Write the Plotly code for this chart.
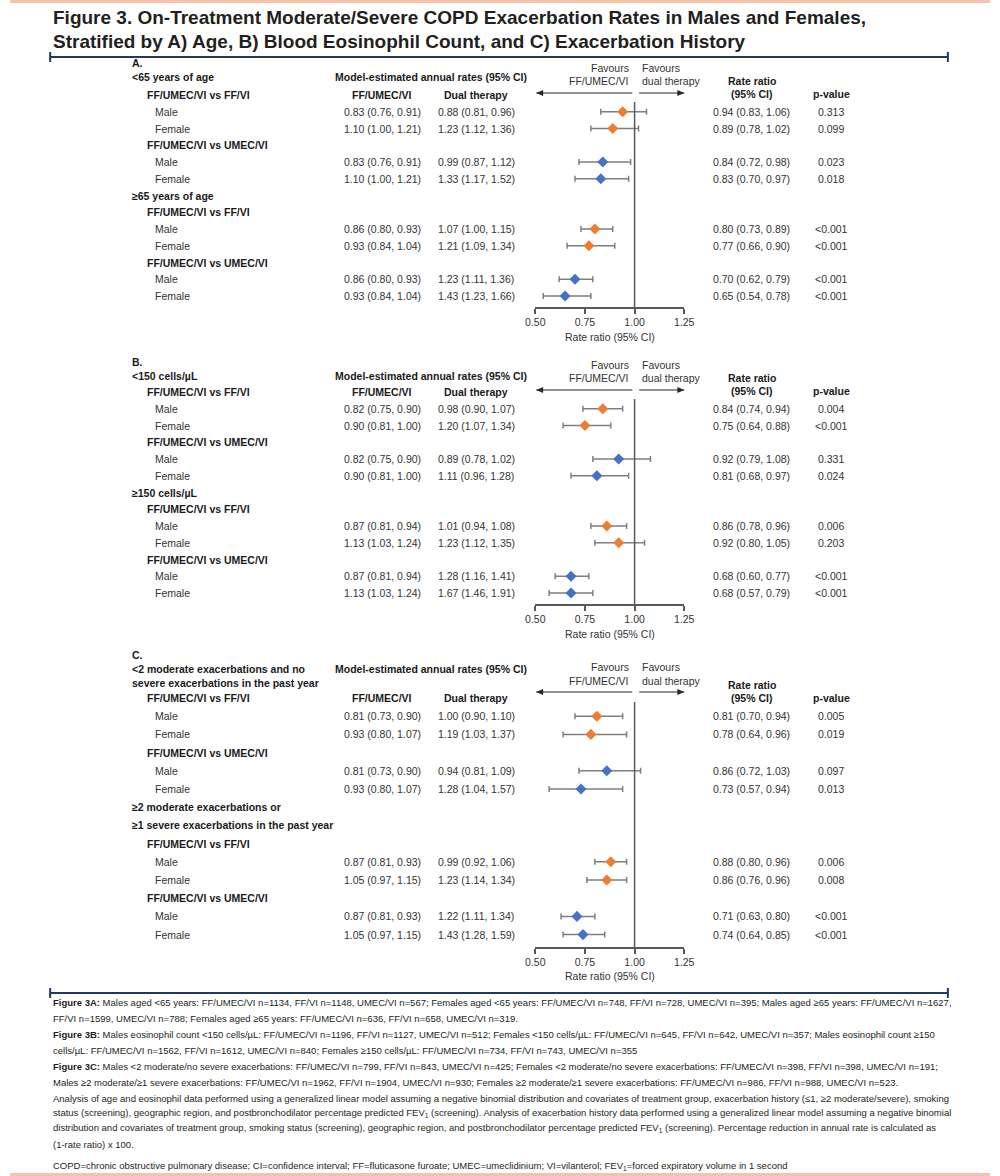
import plotly.graph_objects as go

W, H = 1000, 1176

# ---------------- data ----------------
panel_letters = ["A.", "B.", "C."]
subgroup_labels = [
    [["&lt;65 years of age"], ["≥65 years of age"]],
    [["&lt;150 cells/µL"], ["≥150 cells/µL"]],
    [["&lt;2 moderate exacerbations and no", "severe exacerbations in the past year"],
     ["≥2 moderate exacerbations or", "≥1 severe exacerbations in the past year"]],
]
comparisons = ["FF/UMEC/VI vs FF/VI", "FF/UMEC/VI vs UMEC/VI"]
sexes = ["Male", "Female"]
tick_values = [0.50, 0.75, 1.00, 1.25]
tick_labels = ["0.50", "0.75", "1.00", "1.25"]

# row order: [sub1 vsFF/VI M, F, sub1 vsUMEC/VI M, F, sub2 vsFF/VI M, F, sub2 vsUMEC/VI M, F]
A_triple = [(0.83, 0.76, 0.91), (1.10, 1.00, 1.21), (0.83, 0.76, 0.91), (1.10, 1.00, 1.21),
            (0.86, 0.80, 0.93), (0.93, 0.84, 1.04), (0.86, 0.80, 0.93), (0.93, 0.84, 1.04)]
A_dual = [(0.88, 0.81, 0.96), (1.23, 1.12, 1.36), (0.99, 0.87, 1.12), (1.33, 1.17, 1.52),
          (1.07, 1.00, 1.15), (1.21, 1.09, 1.34), (1.23, 1.11, 1.36), (1.43, 1.23, 1.66)]
A_rr = [0.94, 0.89, 0.84, 0.83, 0.80, 0.77, 0.70, 0.65]
A_lo = [0.83, 0.78, 0.72, 0.70, 0.73, 0.66, 0.62, 0.54]
A_hi = [1.06, 1.02, 0.98, 0.97, 0.89, 0.90, 0.79, 0.78]
A_p = ["0.313", "0.099", "0.023", "0.018", "&lt;0.001", "&lt;0.001", "&lt;0.001", "&lt;0.001"]

B_triple = [(0.82, 0.75, 0.90), (0.90, 0.81, 1.00), (0.82, 0.75, 0.90), (0.90, 0.81, 1.00),
            (0.87, 0.81, 0.94), (1.13, 1.03, 1.24), (0.87, 0.81, 0.94), (1.13, 1.03, 1.24)]
B_dual = [(0.98, 0.90, 1.07), (1.20, 1.07, 1.34), (0.89, 0.78, 1.02), (1.11, 0.96, 1.28),
          (1.01, 0.94, 1.08), (1.23, 1.12, 1.35), (1.28, 1.16, 1.41), (1.67, 1.46, 1.91)]
B_rr = [0.84, 0.75, 0.92, 0.81, 0.86, 0.92, 0.68, 0.68]
B_lo = [0.74, 0.64, 0.79, 0.68, 0.78, 0.80, 0.60, 0.57]
B_hi = [0.94, 0.88, 1.08, 0.97, 0.96, 1.05, 0.77, 0.79]
B_p = ["0.004", "&lt;0.001", "0.331", "0.024", "0.006", "0.203", "&lt;0.001", "&lt;0.001"]

C_triple = [(0.81, 0.73, 0.90), (0.93, 0.80, 1.07), (0.81, 0.73, 0.90), (0.93, 0.80, 1.07),
            (0.87, 0.81, 0.93), (1.05, 0.97, 1.15), (0.87, 0.81, 0.93), (1.05, 0.97, 1.15)]
C_dual = [(1.00, 0.90, 1.10), (1.19, 1.03, 1.37), (0.94, 0.81, 1.09), (1.28, 1.04, 1.57),
          (0.99, 0.92, 1.06), (1.23, 1.14, 1.34), (1.22, 1.11, 1.34), (1.43, 1.28, 1.59)]
C_rr = [0.81, 0.78, 0.86, 0.73, 0.88, 0.86, 0.71, 0.74]
C_lo = [0.70, 0.64, 0.72, 0.57, 0.80, 0.76, 0.63, 0.64]
C_hi = [0.94, 0.96, 1.03, 0.94, 0.96, 0.96, 0.80, 0.85]
C_p = ["0.005", "0.019", "0.097", "0.013", "0.006", "0.008", "&lt;0.001", "&lt;0.001"]

title_lines = [
    "Figure 3. On-Treatment Moderate/Severe COPD Exacerbation Rates in Males and Females,",
    "Stratified by A) Age, B) Blood Eosinophil Count, and C) Exacerbation History",
]
footnotes = [
    "<b>Figure 3A:</b> Males aged &lt;65 years: FF/UMEC/VI n=1134, FF/VI n=1148, UMEC/VI n=567; Females aged &lt;65 years: FF/UMEC/VI n=748, FF/VI n=728, UMEC/VI n=395; Males aged ≥65 years: FF/UMEC/VI n=1627,",
    "FF/VI n=1599, UMEC/VI n=788; Females aged ≥65 years: FF/UMEC/VI n=636, FF/VI n=658, UMEC/VI n=319.",
    "<b>Figure 3B:</b> Males eosinophil count &lt;150 cells/µL: FF/UMEC/VI n=1196, FF/VI n=1127, UMEC/VI n=512; Females &lt;150 cells/µL: FF/UMEC/VI n=645, FF/VI n=642, UMEC/VI n=357; Males eosinophil count ≥150",
    "cells/µL: FF/UMEC/VI n=1562, FF/VI n=1612, UMEC/VI n=840; Females ≥150 cells/µL: FF/UMEC/VI n=734, FF/VI n=743, UMEC/VI n=355",
    "<b>Figure 3C:</b> Males &lt;2 moderate/no severe exacerbations: FF/UMEC/VI n=799, FF/VI n=843, UMEC/VI n=425; Females &lt;2 moderate/no severe exacerbations: FF/UMEC/VI n=398, FF/VI n=398, UMEC/VI n=191;",
    "Males ≥2 moderate/≥1 severe exacerbations: FF/UMEC/VI n=1962, FF/VI n=1904, UMEC/VI n=930; Females ≥2 moderate/≥1 severe exacerbations: FF/UMEC/VI n=986, FF/VI n=988, UMEC/VI n=523.",
    "Analysis of age and eosinophil data performed using a generalized linear model assuming a negative binomial distribution and covariates of treatment group, exacerbation history (≤1, ≥2 moderate/severe), smoking",
    "status (screening), geographic region, and postbronchodilator percentage predicted FEV<sub>1</sub> (screening). Analysis of exacerbation history data performed using a generalized linear model assuming a negative binomial",
    "distribution and covariates of treatment group, smoking status (screening), geographic region, and postbronchodilator percentage predicted FEV<sub>1</sub> (screening). Percentage reduction in annual rate is calculated as",
    "(1-rate ratio) x 100.",
    "COPD=chronic obstructive pulmonary disease; CI=confidence interval; FF=fluticasone furoate; UMEC=umeclidinium; VI=vilanterol; FEV<sub>1</sub>=forced expiratory volume in 1 second",
]

# ---------------- styling / layout ----------------
BODY = "Liberation Sans, Arial, sans-serif"
DARK = "#1a1a1a"
REG = "#333333"
ORANGE = "#ED7D31"
BLUE = "#4472C4"
NAVY = "#1F3864"
SALMON = "#F6C2AC"
ERR = "#7F7F7F"
AXC = "#595959"
ARR = "#262626"
FS = 10.5

X_SUB, X_COMP, X_SEX = 122, 138, 146
X_TRI, X_DUAL, X_MODEL = 380, 476, 430
X_RR, X_P = 757, 838
X_LEFT_ARR0, X_LEFT_ARR1 = 537, 635
X_RIGHT_ARR0, X_RIGHT_ARR1 = 642, 688
DOM = [0.536, 0.688]

panels = [
    dict(letter_y=63, sub_y=[77], model_y=77, fav_y=(68, 81), arrow_y=93, rr_y=(81, 94),
         colhead_y=95, step=16.75, vtop=102, axis_y=308, axtitle_y=337,
         triple=A_triple, dual=A_dual, rr=A_rr, lo=A_lo, hi=A_hi, p=A_p),
    dict(letter_y=362, sub_y=[376], model_y=376, fav_y=(365, 378), arrow_y=390, rr_y=(378, 391),
         colhead_y=392, step=16.75, vtop=399, axis_y=605, axtitle_y=634,
         triple=B_triple, dual=B_dual, rr=B_rr, lo=B_lo, hi=B_hi, p=B_p),
    dict(letter_y=655, sub_y=[669, 683], model_y=669, fav_y=(667, 681), arrow_y=692, rr_y=(685, 698),
         colhead_y=698, step=18.2, vtop=702, axis_y=948, axtitle_y=976,
         triple=C_triple, dual=C_dual, rr=C_rr, lo=C_lo, hi=C_hi, p=C_p),
]

fig = go.Figure()
ann = []
shapes = []


def txt(x, y, s, size=FS, bold=False, anchor="left", color=None, family=BODY):
    ann.append(dict(x=x / W, xref="paper", y=y, yref="y",
                    text=f"<b>{s}</b>" if bold else s, showarrow=False,
                    xanchor=anchor, yanchor="middle",
                    font=dict(size=size, color=color or (DARK if bold else REG), family=family)))


def arrow(x_tail, x_tip, y):
    shapes.append(dict(type="line", xref="paper", yref="y", x0=x_tail / W, x1=x_tip / W,
                       y0=y, y1=y, line=dict(color=ARR, width=1.2)))
    d = 7 if x_tip > x_tail else -7
    bx = (x_tip - d) / W
    shapes.append(dict(type="path", xref="paper", yref="y",
                       path=f"M {x_tip / W},{y} L {bx},{y - 3} L {bx},{y + 3} Z",
                       fillcolor=ARR, line=dict(width=0)))


def fmt(t):
    return f"{t[0]:.2f} ({t[1]:.2f}, {t[2]:.2f})"


# page border lines
shapes.append(dict(type="rect", xref="paper", yref="y", x0=0, x1=1, y0=0, y1=3,
                   fillcolor=SALMON, line=dict(width=0)))
shapes.append(dict(type="rect", xref="paper", yref="y", x0=0, x1=1, y0=1173, y1=1176,
                   fillcolor=SALMON, line=dict(width=0)))
for ry in (57, 993):
    shapes.append(dict(type="line", xref="paper", yref="y", x0=41 / W, x1=957 / W, y0=ry, y1=ry,
                       line=dict(color=NAVY, width=2)))
    for rx in (41, 957):
        shapes.append(dict(type="line", xref="paper", yref="y", x0=rx / W, x1=rx / W,
                           y0=ry - 5, y1=ry + 5, line=dict(color=NAVY, width=2)))

# title
for i, line in enumerate(title_lines):
    ann.append(dict(x=42 / W, xref="paper", y=17 + 24 * i, yref="y", text=f"<b>{line}</b>",
                    showarrow=False, xanchor="left", yanchor="middle",
                    font=dict(size=19, color="#231F20", family=BODY)))

layout_axes = {}
for pi, P in enumerate(panels):
    xa = "x" if pi == 0 else f"x{pi + 1}"
    axname = "xaxis" if pi == 0 else f"xaxis{pi + 1}"
    ax = dict(domain=DOM, range=[0.5, 1.25], tickvals=tick_values, ticktext=tick_labels,
              showline=True, linecolor=AXC, linewidth=1.5, ticks="outside", ticklen=5,
              tickwidth=1.5, tickcolor=AXC, showgrid=False, zeroline=False,
              tickfont=dict(size=FS, color=REG, family=BODY), anchor="free",
              position=1 - P["axis_y"] / H, fixedrange=True)
    if pi > 0:
        ax["overlaying"] = "x"
    layout_axes[axname] = ax

    # header block
    txt(X_SUB, P["letter_y"], panel_letters[pi], bold=True)
    for li, yy in enumerate(P["sub_y"]):
        txt(X_SUB, yy, subgroup_labels[pi][0][li], bold=True)
    txt(X_MODEL, P["model_y"], "Model-estimated annual rates (95% CI)", bold=True, anchor="center")
    txt(X_LEFT_ARR1 - 1, P["fav_y"][0], "Favours", anchor="right")
    txt(X_LEFT_ARR1 - 1, P["fav_y"][1], "FF/UMEC/VI", anchor="right")
    txt(X_RIGHT_ARR0 + 1, P["fav_y"][0], "Favours", anchor="left")
    txt(X_RIGHT_ARR0 + 1, P["fav_y"][1], "dual therapy", anchor="left")
    txt(X_RR, P["rr_y"][0], "Rate ratio", bold=True, anchor="center")
    txt(X_RR, P["rr_y"][1], "(95% CI)", bold=True, anchor="center")
    txt(X_P, P["rr_y"][1], "p-value", bold=True, anchor="center")
    txt(X_TRI, P["colhead_y"], "FF/UMEC/VI", bold=True, anchor="center")
    txt(X_DUAL, P["colhead_y"], "Dual therapy", bold=True, anchor="center")

    # direction arrows
    arrow(X_LEFT_ARR1, X_LEFT_ARR0, P["arrow_y"])
    arrow(X_RIGHT_ARR0, X_RIGHT_ARR1, P["arrow_y"])

    # rows
    y = P["colhead_y"]
    data_y = []
    n_sub2 = len(subgroup_labels[pi][1])
    for s in range(2):
        if s == 1:
            for li in range(n_sub2):
                y += P["step"]
                txt(X_SUB, y, subgroup_labels[pi][1][li], bold=True)
        for c in range(2):
            if not (s == 0 and c == 0):
                y += P["step"]
            txt(X_COMP, y, comparisons[c], bold=True)
            for k in range(2):
                y += P["step"]
                data_y.append(y)
                i = len(data_y) - 1
                txt(X_SEX, y, sexes[k])
                txt(X_TRI, y, fmt(P["triple"][i]), anchor="center")
                txt(X_DUAL, y, fmt(P["dual"][i]), anchor="center")
                txt(X_RR, y, fmt((P["rr"][i], P["lo"][i], P["hi"][i])), anchor="center")
                txt(X_P, y, P["p"][i], anchor="center")

    # reference line at 1.0
    shapes.append(dict(type="line", xref=xa, yref="y", x0=1.0, x1=1.0, y0=P["vtop"], y1=P["axis_y"],
                       line=dict(color=AXC, width=1.5)))
    txt((DOM[0] + DOM[1]) / 2 * W, P["axtitle_y"], "Rate ratio (95% CI)", anchor="center")

    for c, color in enumerate([ORANGE, BLUE]):
        idx = [i for i in range(8) if (i // 2) % 2 == c]
        fig.add_trace(go.Scatter(
            x=[P["rr"][i] for i in idx], y=[data_y[i] for i in idx],
            xaxis=xa, yaxis="y", mode="markers",
            marker=dict(symbol="diamond", size=8.5, color=color, line=dict(width=0)),
            error_x=dict(type="data", symmetric=False,
                         array=[round(P["hi"][i] - P["rr"][i], 4) for i in idx],
                         arrayminus=[round(P["rr"][i] - P["lo"][i], 4) for i in idx],
                         color=ERR, thickness=1.5, width=3),
            showlegend=False, hoverinfo="skip", cliponaxis=False))

# footnotes
foot_y = [1002, 1018, 1034, 1050, 1066, 1082, 1098, 1113, 1128, 1144, 1166]
for line, fy in zip(footnotes, foot_y):
    ann.append(dict(x=42 / W, xref="paper", y=fy, yref="y", text=line, showarrow=False,
                    xanchor="left", yanchor="middle",
                    font=dict(size=9.5, color="#231F20", family=BODY)))

fig.update_layout(
    width=W, height=H, margin=dict(l=0, r=0, t=0, b=0),
    paper_bgcolor="white", plot_bgcolor="rgba(0,0,0,0)",
    yaxis=dict(domain=[0, 1], range=[H, 0], visible=False, fixedrange=True),
    annotations=ann, shapes=shapes, showlegend=False,
    **layout_axes,
)

fig.write_html("out.html", config={"displayModeBar": False},
               post_script="document.body.style.margin='0px';")
